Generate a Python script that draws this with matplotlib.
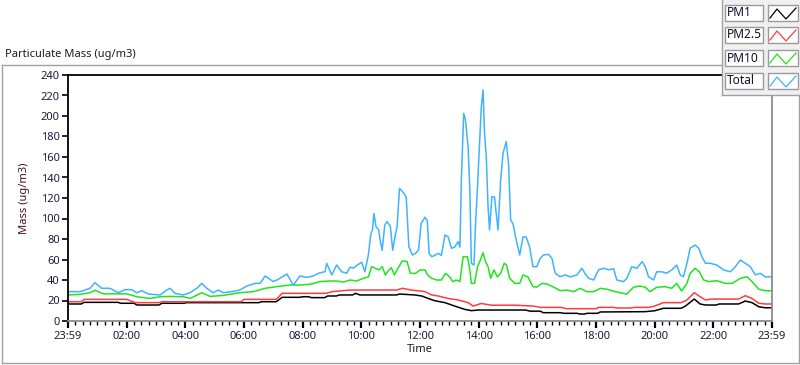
import matplotlib
matplotlib.use("Agg")
import matplotlib.pyplot as plt
from matplotlib.lines import Line2D
from matplotlib.patches import Rectangle
import numpy as np

plt.rcParams['font.family'] = ['Noto Sans', 'DejaVu Sans']

# hours after 23:59
t_total = [0.0, 0.41, 0.75, 0.92, 1.15, 1.43, 1.72, 1.94, 2.17, 2.34, 2.51, 2.74, 3.14, 3.36, 3.48,
           3.65, 3.93, 4.16, 4.39, 4.56, 4.73, 4.95, 5.12, 5.30, 5.58, 5.86, 6.09, 6.38, 6.55, 6.72,
           7.00, 7.17, 7.46, 7.68, 7.91, 8.14, 8.36, 8.53, 8.76, 8.82, 8.99, 9.16, 9.33, 9.50, 9.61,
           9.73, 9.90, 10.01, 10.12, 10.24, 10.32, 10.38, 10.43, 10.50, 10.59, 10.65, 10.71, 10.80,
           10.88, 10.99, 11.07, 11.16, 11.22, 11.30, 11.45, 11.53, 11.62, 11.74, 11.85, 11.95, 12.04,
           12.17, 12.25, 12.31, 12.40, 12.50, 12.62, 12.73, 12.85, 12.96, 13.07, 13.18, 13.30, 13.36,
           13.41, 13.49, 13.55, 13.64, 13.70, 13.75, 13.84, 13.90, 13.96, 14.01, 14.09, 14.15, 14.20,
           14.26, 14.32, 14.37, 14.45, 14.54, 14.60, 14.66, 14.75, 14.83, 14.94, 15.02, 15.09, 15.17,
           15.28, 15.40, 15.51, 15.62, 15.74, 15.85, 15.98, 16.10, 16.21, 16.38, 16.50, 16.61, 16.78,
           16.95, 17.12, 17.35, 17.52, 17.63, 17.75, 17.92, 18.09, 18.26, 18.43, 18.60, 18.71, 18.94,
           19.05, 19.22, 19.39, 19.57, 19.68, 19.79, 19.96, 20.07, 20.24, 20.41, 20.58, 20.75, 20.87,
           20.98, 21.10, 21.21, 21.38, 21.50, 21.61, 21.73, 21.90, 22.12, 22.35, 22.58, 22.75, 22.92,
           23.09, 23.26, 23.43, 23.60, 23.77, 24.0]
total = [28.6, 28.6, 31.9, 37.4, 31.9, 31.9, 27.6, 30.6, 30.6, 27.6, 29.6, 26.3, 25.4, 30.0, 31.9,
         27.0, 25.4, 27.6, 31.9, 36.7, 31.9, 27.6, 30.2, 27.6, 28.6, 30.2, 34.1, 36.7, 36.7, 43.9,
         38.4, 40.7, 45.9, 35.1, 43.9, 42.6, 43.9, 46.5, 48.1, 56.3, 45.0, 54.6, 48.1, 46.5, 52.4,
         51.7, 55.3, 57.3, 48.0, 64.4, 83.9, 89.4, 105.0, 92.0, 89.0, 77.4, 69.0, 93.7,
         96.9, 92.0, 69.0, 84.0, 92.0, 129.5, 124.6, 121.0, 72.5, 64.4, 66.0, 69.3, 95.3,
         101.2, 98.0, 66.0, 62.7, 64.0, 66.0, 64.0, 83.9, 82.0, 71.0, 72.0, 77.4, 72.0,
         137.6, 202.6, 196.0, 170.0, 127.8, 56.3, 54.6, 98.5, 131.0, 160.3, 209.0, 225.4, 183.0,
         160.0, 111.5, 88.8, 121.3, 121.0, 105.0, 88.8, 137.6, 163.6, 175.0, 153.0, 98.5, 95.0,
         79.0, 64.4, 82.0, 82.0, 72.0, 53.0, 53.0, 61.2, 64.4, 65.0, 61.0, 46.5, 43.2,
         45.0, 43.0, 45.0, 51.4, 46.0, 41.6, 40.0, 50.0, 51.4, 50.0, 51.0, 40.0, 38.4,
         41.6, 53.0, 51.4, 57.9, 53.0, 43.2, 40.0, 48.0, 48.0, 46.6, 49.8, 54.6, 45.0,
         43.2, 56.3, 71.0, 74.1, 71.0, 62.7, 56.3, 56.3, 54.6, 49.8, 48.0, 53.0, 59.5,
         56.3, 53.0, 45.0, 46.6, 43.0, 43.0]

t_pm10 = [0.0, 0.41, 0.75, 0.92, 1.2, 1.55, 2.0, 2.34, 2.8, 3.14, 3.48, 3.93, 4.16, 4.56, 4.84,
          5.3, 5.86, 6.32, 6.72, 7.11, 7.57, 7.91, 8.25, 8.59, 8.93, 9.16, 9.39, 9.62, 9.84, 10.07,
          10.24, 10.35, 10.48, 10.6, 10.71, 10.82, 10.94, 11.02, 11.13, 11.22, 11.39, 11.56, 11.67,
          11.85, 12.0, 12.17, 12.26, 12.4, 12.57, 12.73, 12.87, 13.01, 13.12, 13.24, 13.36, 13.47,
          13.62, 13.7, 13.75, 13.86, 13.96, 14.06, 14.15, 14.23, 14.32, 14.41, 14.52, 14.64, 14.75,
          14.87, 14.95, 15.06, 15.23, 15.4, 15.51, 15.68, 15.85, 15.98, 16.16, 16.33, 16.56, 16.78,
          17.01, 17.24, 17.46, 17.69, 17.92, 18.15, 18.37, 18.66, 18.83, 19.05, 19.28, 19.5, 19.68,
          19.84, 20.07, 20.35, 20.58, 20.75, 20.92, 21.1, 21.21, 21.38, 21.52, 21.67, 21.84, 22.12,
          22.41, 22.64, 22.92, 23.15, 23.32, 23.55, 23.77, 24.0]
pm10 = [25.4, 26.0, 27.6, 30.0, 26.5, 26.5, 26.5, 23.7, 22.0, 23.7, 24.0, 23.7, 22.0, 27.6, 24.0,
        25.0, 27.6, 28.6, 31.9, 33.5, 35.1, 35.1, 35.8, 38.4, 39.0, 39.0, 38.0, 40.0, 39.0, 41.6,
        43.0, 53.0, 51.4, 49.8, 53.0, 44.9, 49.8, 52.0, 45.0, 50.0, 58.5, 58.0, 46.5,
        46.5, 49.8, 49.8, 44.9, 41.6, 40.0, 40.0, 46.5, 43.0, 38.4, 40.0, 38.4, 62.7,
        62.7, 49.8, 36.7, 36.7, 53.0, 59.5, 66.6, 58.0, 53.0, 41.6, 49.8, 43.0, 46.5,
        56.3, 54.6, 41.6, 36.7, 36.7, 44.9, 43.0, 33.5, 33.0, 36.7, 36.0, 33.0, 29.6,
        30.2, 28.6, 31.9, 28.6, 28.6, 31.9, 31.0, 28.6, 27.6, 26.3, 33.0, 34.1, 33.0,
        28.6, 32.9, 33.5, 31.9, 36.7, 29.3, 36.7, 46.5, 51.4, 48.0, 40.0, 38.4, 39.3,
        36.7, 36.7, 41.6, 43.2, 38.4, 31.0, 29.6, 29.3]

t_pm25 = [0.0, 0.45, 0.55, 2.0, 2.1, 2.3, 3.1, 3.2, 5.9, 6.0, 7.1, 7.3, 8.8, 9.0, 9.6, 11.2, 11.4,
          11.7, 12.0, 12.17, 12.4, 12.62, 12.96, 13.3, 13.64, 13.81, 14.09, 14.43, 15.23, 15.85,
          16.1, 16.8, 17.0, 18.0, 18.1, 18.6, 18.7, 19.2, 19.3, 19.8, 20.0, 20.3, 20.9, 21.1,
          21.35, 21.55, 21.73, 21.95, 22.86, 23.09, 23.32, 23.55, 23.77, 24.0]
pm25 = [18.8, 18.8, 21.1, 21.1, 20.0, 17.9, 17.9, 18.8, 18.8, 21.1, 21.1, 27.0, 27.0, 28.6, 30.2,
        30.2, 31.9, 30.2, 29.3, 28.6, 25.4, 24.4, 22.0, 20.5, 17.9, 14.6, 17.1, 15.4, 15.4, 14.6,
        13.3, 13.3, 12.0, 12.0, 13.3, 13.3, 12.7, 12.7, 13.3, 13.3, 14.6, 17.9, 17.9, 20.5,
        27.6, 23.7, 20.5, 21.4, 21.4, 24.7, 22.0, 17.3, 16.6, 16.6]

t_pm1 = [0.0, 0.45, 0.55, 1.7, 1.8, 2.25, 2.35, 3.1, 3.2, 3.95, 4.05, 6.5, 6.6, 7.1, 7.3, 7.9,
         8.0, 8.2, 8.3, 8.75, 8.85, 9.15, 9.25, 9.7, 9.8, 9.95, 11.2, 11.3, 11.83, 12.06, 12.28,
         12.5, 12.85, 13.18, 13.52, 13.75, 13.98, 15.6, 15.75, 16.1, 16.2, 16.8, 16.9, 17.35,
         17.45, 17.6, 17.7, 18.05, 18.15, 19.67, 20.0, 20.3, 20.9, 21.05, 21.35, 21.55, 21.73,
         22.1, 22.2, 22.86, 23.09, 23.32, 23.55, 23.77, 24.0]
pm1 = [16.6, 16.6, 18.2, 18.2, 17.3, 17.3, 15.6, 15.6, 17.3, 17.3, 17.9, 17.9, 18.8, 18.8, 23.1,
       23.1, 23.7, 23.7, 22.8, 22.8, 24.4, 24.4, 25.4, 25.4, 27.0, 25.4, 25.4, 26.3, 25.4, 24.4,
       22.0, 19.8, 17.9, 14.6, 11.4, 10.1, 10.7, 10.7, 9.6, 9.6, 8.1, 8.1, 7.5, 7.5,
       6.8, 6.8, 7.5, 7.5, 8.8, 9.1, 10.0, 12.4, 12.4, 14.6, 21.4, 16.6, 15.6,
       15.6, 16.6, 16.6, 19.5, 17.9, 13.9, 12.9, 12.9]

series_names = ['PM1', 'PM2.5', 'PM10', 'Total']
series_colors = ['#000000', '#ff3c3c', '#1ee61e', '#3cb4ff']
x_ticks = [0, 2, 4, 6, 8, 10, 12, 14, 16, 18, 20, 22, 24]
x_labels = ['23:59', '02:00', '04:00', '06:00', '08:00', '10:00', '12:00',
            '14:00', '16:00', '18:00', '20:00', '22:00', '23:59']
y_ticks = list(range(0, 241, 20))

W, H = 800, 365
fig = plt.figure(figsize=(8, 3.65), dpi=100)
fig.patch.set_facecolor('white')

def fx(px):
    return px / W

def fy(py):
    return 1 - py / H

ax = fig.add_axes([fx(68), fy(321), fx(772) - fx(68), fy(75) - fy(321)])
ax.set_xlim(0, 24)
ax.set_ylim(0, 240)

data = [(t_pm1, pm1), (t_pm25, pm25), (t_pm10, pm10), (t_total, total)]
for (tt, vv), name, col in zip(data, series_names, series_colors):
    ax.plot(tt, vv, color=col, lw=1.1, label=name)

for s in ['left', 'top']:
    ax.spines[s].set_color('black')
    ax.spines[s].set_linewidth(1.3)
for s in ['right', 'bottom']:
    ax.spines[s].set_color('#8c8c8c')
    ax.spines[s].set_linewidth(1.3)

tick_col = '#1c1c3c'
ax.set_yticks(y_ticks)
ax.set_xticks(x_ticks)
ax.set_xticklabels(x_labels)
ax.set_xticks(np.arange(0, 24.01, 0.25), minor=True)
ax.tick_params(axis='y', direction='out', length=4, width=1.2, colors='black',
               labelcolor=tick_col, labelsize=8, pad=2)
ax.tick_params(axis='x', which='major', direction='out', length=5, width=1.6, colors='black',
               labelcolor=tick_col, labelsize=8, pad=2)
ax.tick_params(axis='x', which='minor', direction='out', length=3, width=1.0, colors='black')

ax.set_ylabel('Mass (ug/m3)', fontsize=8, color='#4a1020', labelpad=8)
ax.set_xlabel('Time', fontsize=8, color='#1c1c1c', labelpad=2)

# title and panel frame
fig.text(fx(5), fy(54), 'Particulate Mass (ug/m3)', fontsize=8, color='#1c1c1c', va='center', ha='left')
frame_col = '#a0a0a0'
fig.add_artist(Line2D([fx(2), fx(722)], [fy(65), fy(65)], color=frame_col, lw=1))
fig.add_artist(Line2D([fx(2), fx(2)], [fy(65), fy(363)], color=frame_col, lw=1))
fig.add_artist(Line2D([fx(2), fx(799)], [fy(363), fy(363)], color=frame_col, lw=1))
fig.add_artist(Line2D([fx(799), fx(799)], [fy(95), fy(363)], color=frame_col, lw=1))

# legend
fig.add_artist(Rectangle((fx(722), fy(95)), fx(800) - fx(722), fy(0) - fy(95),
                         transform=fig.transFigure, facecolor='#f0f0f0', edgecolor='none'))
fig.add_artist(Line2D([fx(722), fx(722)], [fy(0), fy(95)], color=frame_col, lw=1))
fig.add_artist(Line2D([fx(722), fx(800)], [fy(95), fy(95)], color=frame_col, lw=1))
box_tops = [5, 27, 50, 73]
for top, name, col in zip(box_tops, series_names, series_colors):
    fig.add_artist(Rectangle((fx(725), fy(top + 16)), fx(763) - fx(725), fy(top) - fy(top + 16),
                             transform=fig.transFigure, facecolor='white', edgecolor='#9a9a9a', lw=1))
    fig.add_artist(Rectangle((fx(768), fy(top + 16)), fx(798) - fx(768), fy(top) - fy(top + 16),
                             transform=fig.transFigure, facecolor='white', edgecolor='#9a9a9a', lw=1))
    fig.text(fx(727), fy(top + 8), name, fontsize=8.6, color='#10102a', va='center', ha='left')
    fig.add_artist(Line2D([fx(770), fx(777), fx(786), fx(796)],
                          [fy(top + 13), fy(top + 4), fy(top + 14), fy(top + 3)],
                          color=col, lw=0.9))

fig.savefig('out.png', dpi=100)
